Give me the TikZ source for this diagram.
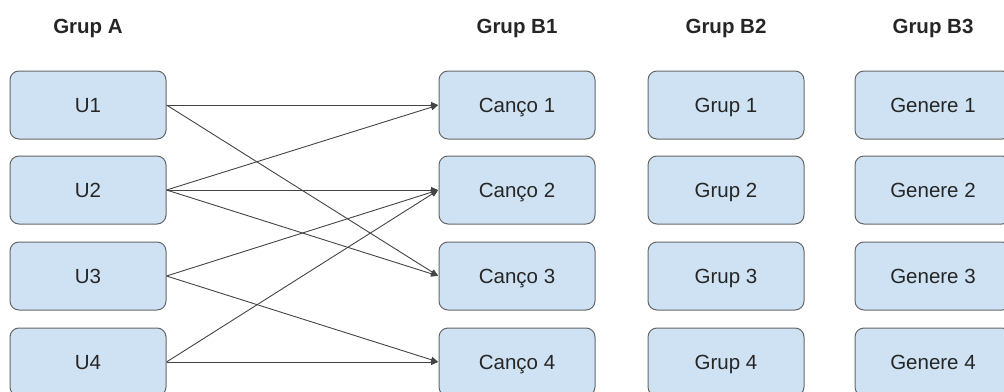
\documentclass[tikz,border=0pt]{standalone}
\usepackage{fontspec}
\setmainfont{Liberation Sans}
\usetikzlibrary{arrows.meta}
\definecolor{boxfill}{HTML}{CFE2F3}
\definecolor{boxline}{HTML}{666666}
\definecolor{linkline}{HTML}{444444}
\tikzset{
  itembox/.style={draw=boxline, line width=1pt, fill=boxfill, rounded corners=9pt,
    minimum width=156pt, minimum height=68pt, inner sep=0pt,
    font=\fontsize{20.5pt}{24pt}\selectfont, text=black!85,
    text height=14.7pt, text depth=0pt},
  header/.style={font=\fontsize{20.5pt}{24pt}\selectfont\bfseries, text=black!85,
    anchor=base, inner sep=0pt},
  link/.style={draw=linkline, line width=0.9pt, -{Triangle[length=7pt,width=6pt]}, shorten >=0.5pt}
}
\begin{document}
\begin{tikzpicture}[x=1pt, y=-1pt]
  \useasboundingbox (0,0) rectangle (1004,391);
  \begin{scope}
  \clip (0,0) rectangle (1004,391);

  % column headers
  \node[header] (hA)  at (88,33)  {Grup A};
  \node[header] (hB1) at (517,33) {Grup B1};
  \node[header] (hB2) at (726,33) {Grup B2};
  \node[header] (hB3) at (933,33) {Grup B3};

  % group A
  \node[itembox] (u1) at (88,105) {U1};
  \node[itembox] (u2) at (88,190) {U2};
  \node[itembox] (u3) at (88,276) {U3};
  \node[itembox] (u4) at (88,362) {U4};

  % group B1
  \node[itembox] (c1) at (517,105) {Canço 1};
  \node[itembox] (c2) at (517,190) {Canço 2};
  \node[itembox] (c3) at (517,276) {Canço 3};
  \node[itembox] (c4) at (517,362) {Canço 4};

  % group B2
  \node[itembox] (g1) at (726,105) {Grup 1};
  \node[itembox] (g2) at (726,190) {Grup 2};
  \node[itembox] (g3) at (726,276) {Grup 3};
  \node[itembox] (g4) at (726,362) {Grup 4};

  % group B3
  \node[itembox] (e1) at (933,105) {Genere 1};
  \node[itembox] (e2) at (933,190) {Genere 2};
  \node[itembox] (e3) at (933,276) {Genere 3};
  \node[itembox] (e4) at (933,362) {Genere 4};

  % links from users to songs
  \draw[link] (u1.east) -- (c1.west);
  \draw[link] (u1.east) -- (c3.west);
  \draw[link] (u2.east) -- (c1.west);
  \draw[link] (u2.east) -- (c2.west);
  \draw[link] (u2.east) -- (c3.west);
  \draw[link] (u3.east) -- (c2.west);
  \draw[link] (u3.east) -- (c4.west);
  \draw[link] (u4.east) -- (c2.west);
  \draw[link] (u4.east) -- (c4.west);
  \end{scope}
\end{tikzpicture}
\end{document}
